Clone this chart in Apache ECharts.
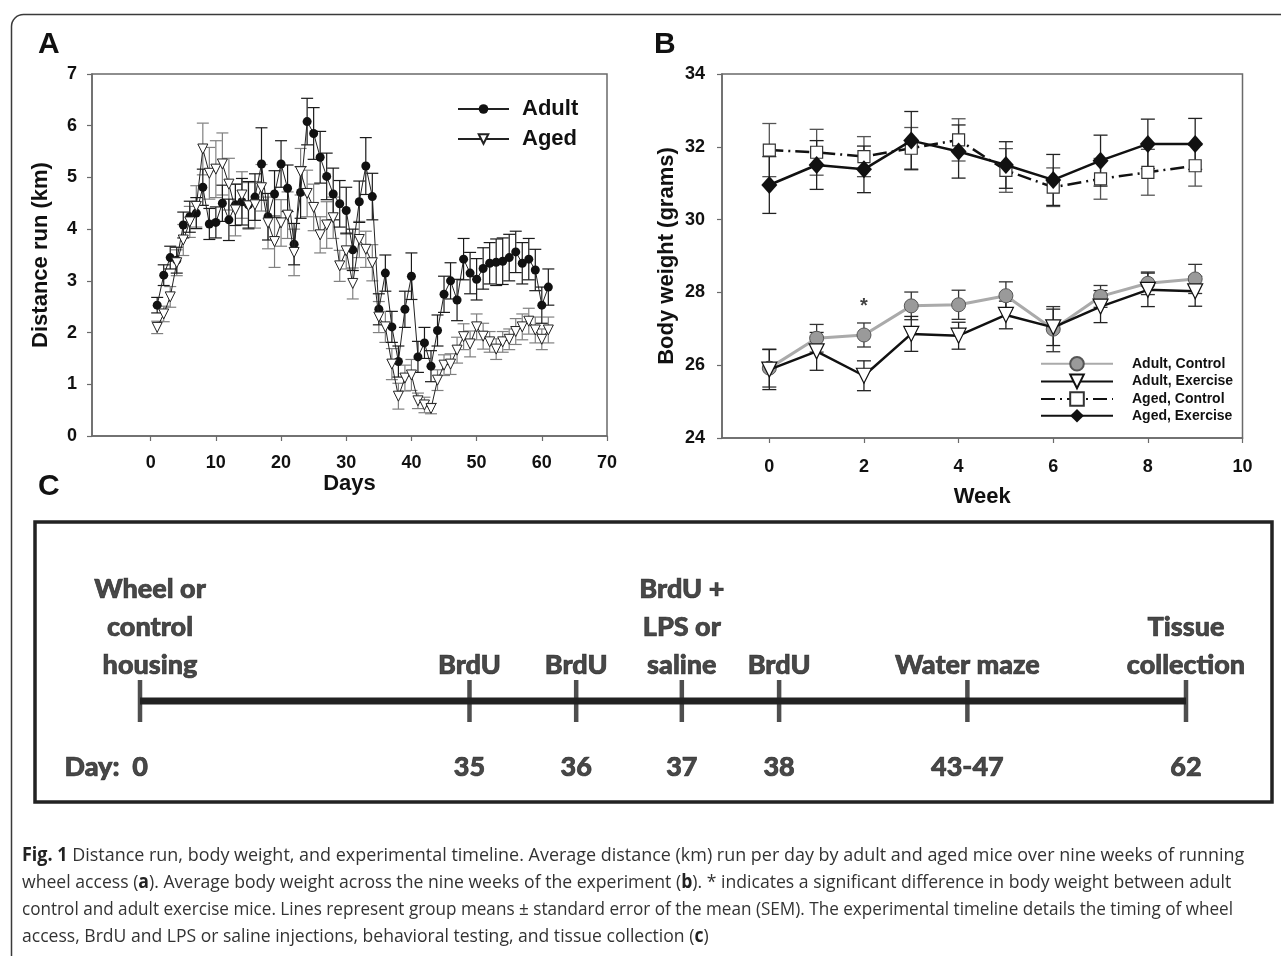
<!DOCTYPE html>
<html>
<head>
<meta charset="utf-8">
<title>Fig. 1</title>
<script src="https://cdn.jsdelivr.net/npm/echarts@6/dist/echarts.min.js"></script>
<style>
html,body{margin:0;padding:0;background:#fff;}
#chart{width:1281px;height:956px;}
</style>
</head>
<body>
<div id="chart"></div>
<script>
// A: distance run per day (km)
var days=[1,2,3,4,5,6,7,8,9,10,11,12,13,14,15,16,17,18,19,20,21,22,23,24,25,26,27,28,29,30,
    31,32,33,34,35,36,37,38,39,40,41,42,43,44,45,46,47,48,49,50,51,52,53,54,55,56,57,58,59,60,61];
var adultKm=[2.53,3.11,3.45,3.40,4.08,4.24,4.31,4.81,4.10,4.13,4.50,4.18,4.47,4.53,4.47,4.62,5.26,4.24,4.68,5.26,
    4.79,3.71,4.71,6.08,5.85,5.39,5.02,4.68,4.49,4.36,3.60,4.53,5.22,4.63,2.45,3.15,2.11,1.44,2.45,3.09,
    1.53,1.80,1.35,2.04,2.74,3.00,2.63,3.42,3.15,3.03,3.24,3.34,3.36,3.38,3.45,3.56,3.34,3.42,3.21,2.53,2.88];
var adultSem=[0.15,0.2,0.22,0.25,0.25,0.3,0.3,0.35,0.3,0.3,0.35,0.4,0.4,0.45,0.45,0.45,0.7,0.45,0.45,0.45,
    0.45,0.4,0.5,0.45,0.5,0.5,0.45,0.5,0.45,0.45,0.4,0.4,0.55,0.45,0.3,0.35,0.3,0.3,0.35,0.45,
    0.3,0.3,0.3,0.3,0.35,0.35,0.4,0.4,0.4,0.4,0.4,0.4,0.45,0.45,0.45,0.4,0.4,0.4,0.4,0.35,0.35];
var agedKm=[2.10,2.36,2.69,3.35,3.79,4.14,4.44,5.55,5.08,5.16,5.26,4.87,4.37,4.66,4.45,4.47,4.80,4.12,3.76,4.12,
    4.27,3.55,5.11,4.69,4.42,3.89,4.08,4.22,3.29,3.58,2.95,3.80,3.61,3.35,2.30,2.11,1.39,0.77,1.12,1.18,
    0.68,0.60,0.53,1.08,1.37,1.39,1.66,1.92,1.78,2.11,1.93,1.82,1.68,1.82,1.87,2.02,2.11,2.22,2.05,1.87,2.05];
var agedSem=[0.12,0.15,0.2,0.25,0.3,0.3,0.4,0.5,0.5,0.55,0.6,0.5,0.5,0.45,0.45,0.45,0.45,0.5,0.5,0.45,
    0.45,0.45,0.45,0.45,0.45,0.35,0.45,0.4,0.3,0.35,0.3,0.35,0.35,0.35,0.3,0.3,0.3,0.25,0.25,0.3,
    0.15,0.15,0.1,0.2,0.2,0.2,0.25,0.25,0.25,0.25,0.25,0.2,0.2,0.2,0.2,0.25,0.25,0.25,0.25,0.2,0.25];
var dayTicks=[0,10,20,30,40,50,60,70];

// B: body weight per week (grams)
var weeks=[0,1,2,3,4,5,6,7,8,9];
var adultCtrl=[25.92,26.74,26.83,27.63,27.66,27.91,26.99,27.89,28.25,28.37];
var adultCtrlSem=[0.52,0.38,0.33,0.38,0.4,0.38,0.62,0.3,0.31,0.4];
var adultEx=[25.88,26.38,25.71,26.86,26.81,27.38,27.04,27.61,28.07,28.03];
var adultExSem=[0.55,0.52,0.41,0.48,0.37,0.38,0.5,0.44,0.46,0.41];
var agedCtrl=[31.91,31.85,31.73,31.96,32.19,31.35,30.89,31.12,31.3,31.48];
var agedCtrlSem=[0.73,0.63,0.55,0.57,0.58,0.6,0.53,0.56,0.63,0.56];
var agedEx=[30.95,31.5,31.38,32.17,31.87,31.5,31.09,31.62,32.08,32.08];
var agedExSem=[0.78,0.67,0.64,0.8,0.73,0.64,0.7,0.7,0.68,0.7];
var weekTicks=[0,2,4,6,8,10];
var starPoints=[[2,27.62]];

// C: timeline (schematic positions on the line)
var timelineSlots=[0,31.5,41.7,51.8,61.1,79.1,100];
var timelineDays=['0','35','36','37','38','43-47','62'];
var timelineEvents=['Wheel or\ncontrol\nhousing','BrdU','BrdU','BrdU +\nLPS or\nsaline','BrdU','Water maze','Tissue\ncollection'];

// caption
var captionLines=[
    '{b|Fig. 1} Distance run, body weight, and experimental timeline. Average distance (km) run per day by adult and aged mice over nine weeks of running',
    'wheel access ({b|a}). Average body weight across the nine weeks of the experiment ({b|b}). * indicates a significant difference in body weight between adult',
    'control and adult exercise mice. Lines represent group means \u00b1 standard error of the mean (SEM). The experimental timeline details the timing of wheel',
    'access, BrdU and LPS or saline injections, behavioral testing, and tissue collection ({b|c})'
];
var captionWidths=[1220,1208,1211];

var ARIAL='"Liberation Sans", Arial, sans-serif';
var AXC='#6a6a6a';

function pairs(xs,ys){
    return xs.map(function(x,i){return [x,ys[i]];});
}
// error bars as custom series
function errorBars(idx,xs,ys,sem,color,cap,width){
    return {
        type:'custom',
        xAxisIndex:idx,
        yAxisIndex:idx,
        silent:true,
        z:1,
        data:xs.map(function(x,i){return [x,ys[i]-sem[i],ys[i]+sem[i]];}),
        encode:{x:0,y:[1,2]},
        renderItem:function(params,api){
            var x=api.value(0);
            var lo=api.coord([x,api.value(1)]);
            var hi=api.coord([x,api.value(2)]);
            var st={stroke:color,lineWidth:width};
            return {type:'group',children:[
                {type:'line',shape:{x1:hi[0],y1:hi[1],x2:lo[0],y2:lo[1]},style:st},
                {type:'line',shape:{x1:hi[0]-cap,y1:hi[1],x2:hi[0]+cap,y2:hi[1]},style:st},
                {type:'line',shape:{x1:lo[0]-cap,y1:lo[1],x2:lo[0]+cap,y2:lo[1]},style:st}
            ]};
        }
    };
}
function valueAxis(idx,min,max,opt){
    var ax={
        type:'value',gridIndex:idx,min:min,max:max,
        axisLine:{show:true,onZero:false,lineStyle:{color:AXC,width:1.5}},
        axisTick:{show:true,length:5,lineStyle:{color:AXC,width:1.2}},
        axisLabel:{color:'#111',fontSize:18,fontWeight:700,fontFamily:ARIAL},
        splitLine:{show:false},
        nameLocation:'middle',
        nameTextStyle:{color:'#111',fontSize:22,fontWeight:'bold',fontFamily:ARIAL}
    };
    for(var k in opt){
        if(typeof opt[k]=='object'&&ax[k]){
            for(var j in opt[k]){ax[k][j]=opt[k][j];}
        }else{
            ax[k]=opt[k];
        }
    }
    return ax;
}

// squeeze the caption font to the width of the printed lines
var ctx=document.createElement('canvas').getContext('2d');
ctx.font='19px "Open Sans"';
var captionScale=captionWidths.map(function(w,i){
    return w/ctx.measureText(captionLines[i].replace(/\{b\|([^}]*)\}/g,'$1')).width;
});
captionScale.push((captionScale[0]+captionScale[1]+captionScale[2])/3);

var chart={
    mychart:echarts.init(document.getElementById('chart')),
    option:{
        backgroundColor:'#fff',
        animation:false,
        grid:[
            {left:92,right:674,top:74,height:362,show:true,borderColor:AXC,borderWidth:1.5},
            {left:722,right:38.5,top:74,height:364,show:true,borderColor:AXC,borderWidth:1.5},
            {left:140,right:95,top:680,height:42}
        ],
        xAxis:[
            valueAxis(0,-9,70,{
                name:'Days',nameGap:27,
                axisTick:{customValues:dayTicks},
                axisLabel:{customValues:dayTicks,margin:18}
            }),
            valueAxis(1,-1,10,{
                name:'Week',nameGap:48,
                axisTick:{customValues:weekTicks},
                axisLabel:{customValues:weekTicks,margin:20}
            }),
            {type:'value',gridIndex:2,min:0,max:100,show:false}
        ],
        yAxis:[
            valueAxis(0,0,7,{
                interval:1,name:'Distance run (km)',nameGap:40,
                axisLabel:{margin:15}
            }),
            valueAxis(1,24,34,{
                interval:2,name:'Body weight (grams)',nameGap:44,
                axisLabel:{margin:17}
            }),
            {type:'value',gridIndex:2,min:-1,max:1,show:false}
        ],
        legend:[
            {
                data:['Adult','Aged'],
                left:457,top:98,orient:'vertical',padding:0,
                itemWidth:51,itemHeight:12,itemGap:8,
                textStyle:{fontSize:22,fontWeight:'bold',color:'#111',fontFamily:ARIAL,padding:[0,0,0,8]}
            },
            {
                data:['Adult, Control','Adult, Exercise','Aged, Control','Aged, Exercise'],
                left:1040,top:356,orient:'vertical',padding:0,
                itemWidth:72,itemHeight:17,itemGap:2,
                textStyle:{fontSize:14,fontWeight:'bold',color:'#111',fontFamily:ARIAL,padding:[0,0,0,14]}
            }
        ],
        series:[],
        graphic:[]
    },
    // panel A series
    panelA:function(){
        var s=this.option.series;
        s.push(errorBars(0,days,agedKm,agedSem,'#808080',6,1.2));
        s.push(errorBars(0,days,adultKm,adultSem,'#1a1a1a',6,1.2));
        s.push({
            name:'Adult',type:'line',xAxisIndex:0,yAxisIndex:0,z:3,
            data:pairs(days,adultKm),
            symbol:'circle',symbolSize:9,
            lineStyle:{color:'#222',width:1},
            itemStyle:{color:'#111'}
        });
        s.push({
            name:'Aged',type:'line',xAxisIndex:0,yAxisIndex:0,z:4,
            data:pairs(days,agedKm),
            symbol:'triangle',symbolRotate:180,symbolSize:10,
            lineStyle:{color:'#222',width:1},
            itemStyle:{color:'#fff',borderColor:'#222',borderWidth:1}
        });
    },
    // panel B series
    panelB:function(){
        var s=this.option.series;
        s.push(errorBars(1,weeks,agedCtrl,agedCtrlSem,'#555',7,1.3));
        s.push(errorBars(1,weeks,agedEx,agedExSem,'#222',7,1.3));
        s.push(errorBars(1,weeks,adultCtrl,adultCtrlSem,'#333',7,1.3));
        s.push(errorBars(1,weeks,adultEx,adultExSem,'#222',7,1.3));
        s.push({
            name:'Adult, Control',type:'line',xAxisIndex:1,yAxisIndex:1,z:3,
            data:pairs(weeks,adultCtrl),
            symbol:'circle',symbolSize:14,
            lineStyle:{color:'#aaaaaa',width:3},
            itemStyle:{color:'#9a9a9a',borderColor:'#555',borderWidth:1}
        });
        s.push({
            name:'Adult, Exercise',type:'line',xAxisIndex:1,yAxisIndex:1,z:4,
            data:pairs(weeks,adultEx),
            symbol:'triangle',symbolRotate:180,symbolSize:15,
            lineStyle:{color:'#111',width:2.5},
            itemStyle:{color:'#fff',borderColor:'#111',borderWidth:1.2}
        });
        s.push({
            name:'Aged, Control',type:'line',xAxisIndex:1,yAxisIndex:1,z:3,
            data:pairs(weeks,agedCtrl),
            symbol:'rect',symbolSize:12,
            lineStyle:{color:'#111',width:2.5,type:[14,5,2,5]},
            itemStyle:{color:'#fff',borderColor:'#333',borderWidth:1.2}
        });
        s.push({
            name:'Aged, Exercise',type:'line',xAxisIndex:1,yAxisIndex:1,z:4,
            data:pairs(weeks,agedEx),
            symbol:'diamond',symbolSize:[16,18],
            lineStyle:{color:'#111',width:2.5},
            itemStyle:{color:'#111'}
        });
        s.push({
            type:'scatter',xAxisIndex:1,yAxisIndex:1,silent:true,
            data:starPoints,symbolSize:1,itemStyle:{color:'transparent'},
            label:{show:true,position:'inside',formatter:'*',fontSize:20,fontWeight:700,color:'#111',fontFamily:ARIAL}
        });
    },
    // panel C timeline
    panelC:function(){
        var s=this.option.series;
        var font='Lato, "Open Sans", sans-serif';
        // thin outline so the labels read as heavy as the printed ones
        var heavy={fontSize:27,fontWeight:900,lineHeight:38,color:'#1a1a1a',fontFamily:font,
            textBorderColor:'#1a1a1a',textBorderWidth:0.7};
        s.push({
            type:'line',xAxisIndex:2,yAxisIndex:2,silent:true,
            data:[[timelineSlots[0],0],[timelineSlots[timelineSlots.length-1],0]],
            symbol:'none',lineStyle:{color:'#222',width:7}
        });
        s.push({
            type:'scatter',xAxisIndex:2,yAxisIndex:2,silent:true,z:3,
            data:timelineSlots.map(function(x,i){
                var d={value:[x,0]};
                if(i==0){d.label={offset:[10,0]};}
                return d;
            }),
            symbol:'rect',symbolSize:[4.5,42],itemStyle:{color:'#222'},
            label:Object.assign({
                show:true,position:'top',distance:-4,align:'center',
                formatter:function(p){return timelineEvents[p.dataIndex];}
            },heavy)
        });
        s.push({
            type:'scatter',xAxisIndex:2,yAxisIndex:2,silent:true,z:3,
            data:timelineSlots.map(function(x,i){
                var d={value:[x,0]};
                if(i==0){d.label={align:'right',offset:[8,0]};}
                return d;
            }),
            symbol:'rect',symbolSize:[4.5,42],itemStyle:{color:'transparent'},
            label:Object.assign({
                show:true,position:'bottom',distance:26,
                formatter:function(p){return (p.dataIndex==0?'Day:  ':'')+timelineDays[p.dataIndex];}
            },heavy)
        });
    },
    // frame, panel letters, caption
    decorate:function(){
        var g=this.option.graphic;
        g.push({type:'rect',left:9,top:12,shape:{x:0,y:0,width:1400,height:1100,r:12},
            style:{fill:'none',stroke:'#3a3a3a',lineWidth:1.5},silent:true});
        g.push({type:'rect',shape:{x:35,y:522,width:1237,height:280},
            style:{fill:'none',stroke:'#222',lineWidth:3.5},silent:true});
        var letters=[['A',38,45],['B',654,45],['C',38,487]];
        letters.forEach(function(l){
            g.push({type:'text',x:l[1],y:l[2],silent:true,
                style:{text:l[0],fill:'#111',font:'bold 30px '+ARIAL,verticalAlign:'middle'}});
        });
        var ys=[856,883,910,937];
        captionLines.forEach(function(t,i){
            g.push({type:'text',x:22,y:ys[i],scaleX:captionScale[i],silent:true,
                style:{text:t,fill:'#333',fontSize:19,fontFamily:'"Open Sans", sans-serif',verticalAlign:'middle',
                    rich:{b:{fontWeight:'bold',fill:'#222',fontSize:19,fontFamily:'"Open Sans", sans-serif'}}}});
        });
    },
    start:function(){
        this.panelA();
        this.panelB();
        this.panelC();
        this.decorate();
        this.mychart.setOption(this.option);
    }
};
chart.start();
</script>
</body>
</html>
